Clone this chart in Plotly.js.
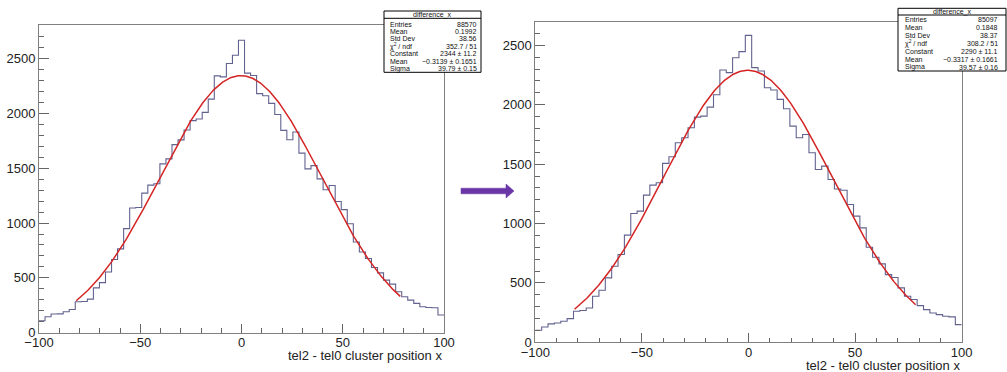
<!DOCTYPE html>
<html><head><meta charset="utf-8">
<script src="https://cdn.plot.ly/plotly-3.0.1.min.js"></script>
<style>html,body{margin:0;padding:0;background:#fff}#chart{width:1007px;height:372px}</style>
</head><body><div id="chart"></div>
<script>
// ---- data ----
const xMin = -100, xMax = 100, nBins = 67;
const countsBefore = [109,145,170,172,191,212,282,284,306,409,457,554,667,764,949,1137,1142,1273,1346,1358,1540,1585,1715,1758,1849,1934,1949,2009,2130,2342,2333,2455,2530,2667,2367,2345,2180,2161,2091,1990,1845,1760,1830,1638,1494,1524,1403,1303,1343,1197,1122,994,827,736,676,594,546,479,443,373,328,297,267,236,230,227,161];
const countsAfter = [101,129,155,163,177,199,262,268,289,388,438,542,640,739,902,1084,1104,1239,1323,1343,1506,1562,1680,1722,1806,1896,1904,1980,2084,2292,2270,2396,2447,2584,2312,2284,2143,2124,2045,1966,1820,1722,1750,1596,1455,1483,1371,1290,1280,1160,1062,963,800,716,660,570,545,458,388,360,309,275,247,233,219,214,149];
const fitBefore = [2344, -0.3139, 39.79];   // Constant, Mean, Sigma
const fitAfter = [2290, -0.3317, 39.57];
const fitRange = [-81.6, 78.5];
const statTitle = 'difference_x';
const statLabels = ['Entries','Mean','Std Dev','χ<sup>2</sup> / ndf','Constant','Mean','Sigma'];
const statsBefore = ['88570','0.1992','38.56','352.7 / 51','2344 ± 11.2','−0.3139 ± 0.1651','39.79 ± 0.15'];
const statsAfter = ['85097','0.1848','38.37','308.2 / 51','2290 ± 11.1','−0.3317 ± 0.1661','39.57 ± 0.16'];
const xTitle = 'tel2 - tel0 cluster position x';

// ---- helpers ----
const W = 1007, H = 372;
const px = x => x / W, py = y => (H - y) / H;
const binW = (xMax - xMin) / nBins;
function stepTrace(counts, xa, ya) {
  const xs = [], ys = [];
  counts.forEach((c, i) => { xs.push(xMin + i * binW); ys.push(c); });
  xs.push(xMax); ys.push(counts[counts.length - 1]);
  return {x: xs, y: ys, xaxis: xa, yaxis: ya, type: 'scatter', mode: 'lines',
    line: {shape: 'hv', color: '#62628f', width: 1.1}, hoverinfo: 'skip'};
}
function fitTrace(p, xa, ya) {
  const xs = [], ys = [];
  for (let x = fitRange[0]; x <= fitRange[1] + 1e-9; x += 0.5) {
    xs.push(x); ys.push(p[0] * Math.exp(-0.5 * Math.pow((x - p[1]) / p[2], 2)));
  }
  return {x: xs, y: ys, xaxis: xa, yaxis: ya, type: 'scatter', mode: 'lines',
    line: {color: '#d42424', width: 1.5}, hoverinfo: 'skip'};
}
const tickFont = {family: 'Liberation Sans, Arial, sans-serif', size: 13, color: '#222'};
function xAxis(domain, anchor) {
  return {domain, anchor, range: [xMin, xMax], tick0: 0, dtick: 50, showgrid: false, zeroline: false,
    showline: true, linecolor: '#808080', linewidth: 1, mirror: true,
    ticks: 'inside', ticklen: 9, tickcolor: '#666', tickfont: tickFont, ticklabelstandoff: -2,
    minor: {dtick: 10, ticks: 'inside', ticklen: 4.5, tickcolor: '#666', showgrid: false}};
}
function yAxis(domain, anchor, top) {
  return {domain, anchor, range: [0, top], tick0: 0, dtick: 500, showgrid: false, zeroline: false,
    showline: true, linecolor: '#808080', linewidth: 1, mirror: true,
    ticks: 'inside', ticklen: 10, tickcolor: '#666', tickfont: tickFont,
    minor: {dtick: 100, ticks: 'inside', ticklen: 5, tickcolor: '#666', showgrid: false}};
}
const shapes = [], annotations = [];
function statsBox(x0, x1, top, sep, bottom, rowTop, rowBot, labelX, valueX, values) {
  shapes.push({type: 'rect', xref: 'paper', yref: 'paper', x0: px(x0), x1: px(x1), y0: py(bottom), y1: py(top),
    line: {color: '#000', width: 1}, fillcolor: '#fff', layer: 'above'});
  shapes.push({type: 'line', xref: 'paper', yref: 'paper', x0: px(x0), x1: px(x1), y0: py(sep), y1: py(sep),
    line: {color: '#000', width: 1}});
  const f = {family: 'Liberation Sans, Arial, sans-serif', size: 7, color: '#111'};
  annotations.push({xref: 'paper', yref: 'paper', x: px((x0 + x1) / 2), y: py((top + sep) / 2), text: statTitle,
    showarrow: false, xanchor: 'center', yanchor: 'middle', font: f});
  const step = (rowBot - rowTop) / (statLabels.length - 1);
  statLabels.forEach((lab, i) => {
    const y = py(rowTop + i * step);
    annotations.push({xref: 'paper', yref: 'paper', x: px(labelX), y, text: lab, showarrow: false,
      xanchor: 'left', yanchor: 'middle', font: f});
    annotations.push({xref: 'paper', yref: 'paper', x: px(valueX), y, text: values[i], showarrow: false,
      xanchor: 'right', yanchor: 'middle', font: f});
  });
}
statsBox(384, 481, 11, 18.3, 72.3, 24, 68.7, 388, 479, statsBefore);
statsBox(898, 1006, 8.3, 15, 71, 19.3, 67.3, 903, 1000, statsAfter);

annotations.push({xref: 'x domain', yref: 'paper', x: 1, y: py(355.5), text: xTitle, showarrow: false,
  xanchor: 'right', yanchor: 'middle', font: {family: 'Liberation Sans, Arial, sans-serif', size: 13, color: '#222'}});
annotations.push({xref: 'x2 domain', yref: 'paper', x: 1, y: py(365.5), text: xTitle, showarrow: false,
  xanchor: 'right', yanchor: 'middle', font: {family: 'Liberation Sans, Arial, sans-serif', size: 13, color: '#222'}});

// purple arrow between panels
const ax = [461, 506, 506, 514, 506, 506, 461], ay = [188.2, 188.2, 184, 191, 198, 193.8, 193.8];
shapes.push({type: 'path', xref: 'paper', yref: 'paper',
  path: 'M ' + ax.map((x, i) => px(x) + ',' + py(ay[i])).join(' L ') + ' Z',
  fillcolor: '#6a35a6', line: {color: '#6a35a6', width: 0.5}});

const data = [
  stepTrace(countsBefore, 'x', 'y'), fitTrace(fitBefore, 'x', 'y'),
  stepTrace(countsAfter, 'x2', 'y2'), fitTrace(fitAfter, 'x2', 'y2')
];
const layout = {
  width: W, height: H, margin: {l: 0, r: 0, t: 0, b: 0}, showlegend: false,
  paper_bgcolor: '#fff', plot_bgcolor: '#fff',
  xaxis: xAxis([px(39), px(444)], 'y'),
  yaxis: yAxis([py(332.7), py(25)], 'x', 2806),
  xaxis2: xAxis([px(535.3), px(961.7)], 'y2'),
  yaxis2: yAxis([py(342.3), py(21.7)], 'x2', 2699),
  shapes, annotations
};
Plotly.newPlot('chart', data, layout, {staticPlot: true});
</script></body></html>
